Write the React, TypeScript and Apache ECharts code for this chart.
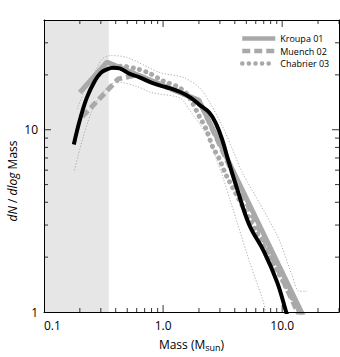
import React, { useEffect, useRef } from "react";
import * as echarts from "echarts";

const FONT = "'Open Sans', 'Noto Sans', sans-serif";

// Observed mass function (black curve)
const obsMass = [0.178, 0.2, 0.229, 0.267, 0.3, 0.336, 0.378, 0.432, 0.52, 0.635, 0.77, 0.935, 1.07, 1.39, 1.7, 2.02, 2.45, 2.8, 3.16, 3.5, 4.2, 5.3, 7.05, 9.1, 10.8, 12];
const obsDN = [8.3, 11.3, 15.0, 18.5, 20.5, 21.4, 21.9, 21.7, 20.3, 19.4, 18.3, 17.5, 17.1, 16.1, 15.0, 13.7, 12.4, 10.7, 8.7, 6.9, 4.7, 3.0, 2.14, 1.45, 1.0, 0.8];

// Confidence envelope (thin dotted)
const upperMass = [0.19, 0.22, 0.27, 0.31, 0.36, 0.5, 0.94, 1.5, 2.02, 2.45, 3.16, 3.83, 4.65, 9.1, 12.1, 13.9, 16.2];
const upperDN = [13, 16.5, 21, 24.5, 25.5, 24.9, 20.6, 19.3, 17.0, 14.2, 10.4, 7.8, 5.8, 2.62, 1.59, 1.3, 1.3];
const lowerMass = [0.18, 0.21, 0.25, 0.3, 0.36, 0.41, 0.6, 0.8, 1.39, 1.67, 2.02, 2.45, 2.8, 3.16, 5.3, 6.8, 7.3];
const lowerDN = [6.0, 8.8, 12.5, 15.5, 17.5, 18.3, 17.3, 16.0, 14.9, 12.8, 10.8, 8.8, 6.9, 5.55, 1.9, 1.19, 1.0];

// Reference IMFs
const kroupaMass = [0.2, 0.337, 2.0, 14.5, 16.5];
const kroupaDN = [16.0, 23.5, 14.5, 1.0, 0.84];
const muenchMass = [0.21, 0.42, 0.6, 2.0, 13.5, 15.5];
const muenchDN = [11.8, 19.0, 20.0, 14.5, 1.0, 0.83];
const chabrierMass = [0.3, 0.36, 0.45, 0.6, 0.77, 1.0, 1.3, 1.55, 1.77, 2.02, 2.31, 2.6, 2.97, 3.4, 14, 15.5];
const chabrierDN = [21.0, 21.8, 22.3, 21.6, 20.4, 18.5, 17.3, 16.0, 14.0, 11.8, 10.0, 8.1, 6.9, 5.6, 1.0, 0.88];

// Axis ticks
const xMajorTicks = [1, 10];
const xMinorTicks = [0.2, 0.3, 0.4, 0.5, 0.6, 0.7, 0.8, 0.9, 2, 3, 4, 5, 6, 7, 8, 9, 20, 30];
const yMajorTicks = [10];
const yMinorTicks = [2, 3, 4, 5, 6, 7, 8, 9, 20, 30];
const shadedRange = [0.1, 0.35];

const X_MIN = 0.1, X_MAX = 30, Y_MIN = 1, Y_MAX = 40;
const MAJOR = 7, MINOR = 4;

const zip = (a: number[], b: number[]) => a.map((v, i) => [v, b[i]]);

export default function App() {
  const ref = useRef<HTMLDivElement>(null);
  useEffect(() => {
    if (!ref.current) return;
    const chart = echarts.init(ref.current, undefined, { renderer: "svg" });
    const axisLine = { show: true, lineStyle: { color: "#000", width: 1 } };
    const mkX = (pos: "bottom" | "top") => ({
      type: "log",
      logBase: 10,
      min: X_MIN,
      max: X_MAX,
      position: pos,
      z: 4,
      axisLine,
      splitLine: { show: false },
      axisTick: { show: false },
      axisLabel: pos === "bottom"
        ? {
            show: true,
            color: "#000",
            fontFamily: FONT,
            fontSize: 12,
            margin: 7,
            showMaxLabel: false,
            alignMinLabel: "left",
            formatter: (v: number) => (v < 1 ? String(v) : v.toFixed(1)),
          }
        : { show: false },
      name: pos === "bottom" ? "Mass (M{s|sun})" : "",
      nameLocation: "middle",
      nameGap: 25,
      nameTextStyle: {
        color: "#000",
        fontFamily: FONT,
        fontSize: 12,
        rich: { s: { fontFamily: FONT, fontSize: 9, color: "#000", verticalAlign: "bottom", padding: [6, 0, 0, 0] } },
      },
    });
    const mkY = (pos: "left" | "right") => ({
      type: "log",
      logBase: 10,
      min: Y_MIN,
      max: Y_MAX,
      position: pos,
      z: 4,
      axisLine,
      splitLine: { show: false },
      axisTick: { show: false },
      axisLabel: pos === "left"
        ? { show: true, color: "#000", fontFamily: FONT, fontSize: 12, margin: 6, showMaxLabel: false }
        : { show: false },
    });

    const tickSeries = (pts: number[][], size: number[], offset: number[]) => ({
      type: "scatter",
      data: pts,
      symbol: "rect",
      symbolSize: size,
      symbolOffset: offset,
      itemStyle: { color: "#000" },
      clip: false,
      silent: true,
      z: 6,
    });
    const xTicks = (vals: number[], y: number, len: number, dir: number) =>
      tickSeries(vals.map((v) => [v, y]), [1, len], [0, (dir * len) / 2]);
    const yTicks = (vals: number[], x: number, len: number, dir: number) =>
      tickSeries(vals.map((v) => [x, v]), [len, 1], [(dir * len) / 2, 0]);

    const thin = { color: "#9a9a9a", width: 0.8, type: [1.2, 1.8] };
    const gray = "#a9a9a9";

    chart.setOption({
      animation: false,
      backgroundColor: "#fff",
      grid: { left: 44, right: 1, top: 20, bottom: 43, containLabel: false },
      xAxis: [mkX("bottom"), mkX("top")],
      yAxis: [mkY("left"), mkY("right")],
      legend: {
        orient: "vertical",
        left: 240,
        top: 34,
        padding: 0,
        itemWidth: 33,
        itemHeight: 10,
        itemGap: 3.5,
        itemStyle: { opacity: 0 },
        lineStyle: { width: 4.5 },
        data: ["Kroupa 01", "Muench 02", "Chabrier 03"],
        textStyle: { fontFamily: FONT, fontSize: 9, color: "#000" },
      },
      graphic: [
        {
          type: "text",
          x: 12,
          y: 181,
          rotation: Math.PI / 2,
          style: {
            text: "{i|dN} / {i|dlog} Mass",
            align: "center",
            verticalAlign: "middle",
            fontFamily: FONT,
            fontSize: 12,
            fill: "#000",
            rich: { i: { fontStyle: "italic", fontFamily: FONT, fontSize: 12, fill: "#000" } },
          },
        },
      ],
      series: [
        {
          type: "line",
          name: "shade",
          data: [],
          markArea: {
            silent: true,
            itemStyle: { color: "#e6e6e6" },
            data: [[{ xAxis: shadedRange[0] }, { xAxis: shadedRange[1] }]],
          },
        },
        {
          type: "line",
          name: "upper",
          data: zip(upperMass, upperDN),
          symbol: "none",
          smooth: 0.3,
          lineStyle: thin,
          z: 2,
        },
        {
          type: "line",
          name: "lower",
          data: zip(lowerMass, lowerDN),
          symbol: "none",
          smooth: 0.3,
          lineStyle: thin,
          z: 2,
        },
        {
          type: "line",
          name: "Kroupa 01",
          data: zip(kroupaMass, kroupaDN),
          symbol: "none",
          itemStyle: { color: gray },
          lineStyle: { color: gray, width: 5 },
          z: 3,
        },
        {
          type: "line",
          name: "Muench 02",
          data: zip(muenchMass, muenchDN),
          symbol: "none",
          itemStyle: { color: gray },
          lineStyle: { color: gray, width: 5, type: [8, 4] },
          z: 3,
        },
        {
          type: "line",
          name: "Chabrier 03",
          data: zip(chabrierMass, chabrierDN),
          symbol: "none",
          smooth: 0.3,
          itemStyle: { color: gray },
          lineStyle: { color: gray, width: 5, type: [0.1, 6.5], cap: "round" },
          z: 3,
        },
        {
          type: "line",
          name: "Observed",
          data: zip(obsMass, obsDN),
          symbol: "none",
          smooth: 0.4,
          lineStyle: { color: "#000", width: 4 },
          z: 5,
        },
        xTicks(xMajorTicks, Y_MIN, MAJOR, -1),
        xTicks(xMinorTicks, Y_MIN, MINOR, -1),
        xTicks(xMajorTicks, Y_MAX, MAJOR, 1),
        xTicks(xMinorTicks, Y_MAX, MINOR, 1),
        yTicks(yMajorTicks, X_MIN, MAJOR, 1),
        yTicks(yMinorTicks, X_MIN, MINOR, 1),
        yTicks(yMajorTicks, X_MAX, MAJOR, -1),
        yTicks(yMinorTicks, X_MAX, MINOR, -1),
      ],
    });
    return () => chart.dispose();
  }, []);
  return (
    <div
      ref={ref}
      style={{ position: "absolute", left: 0, top: 0, width: 340, height: 357 }}
    />
  );
}
